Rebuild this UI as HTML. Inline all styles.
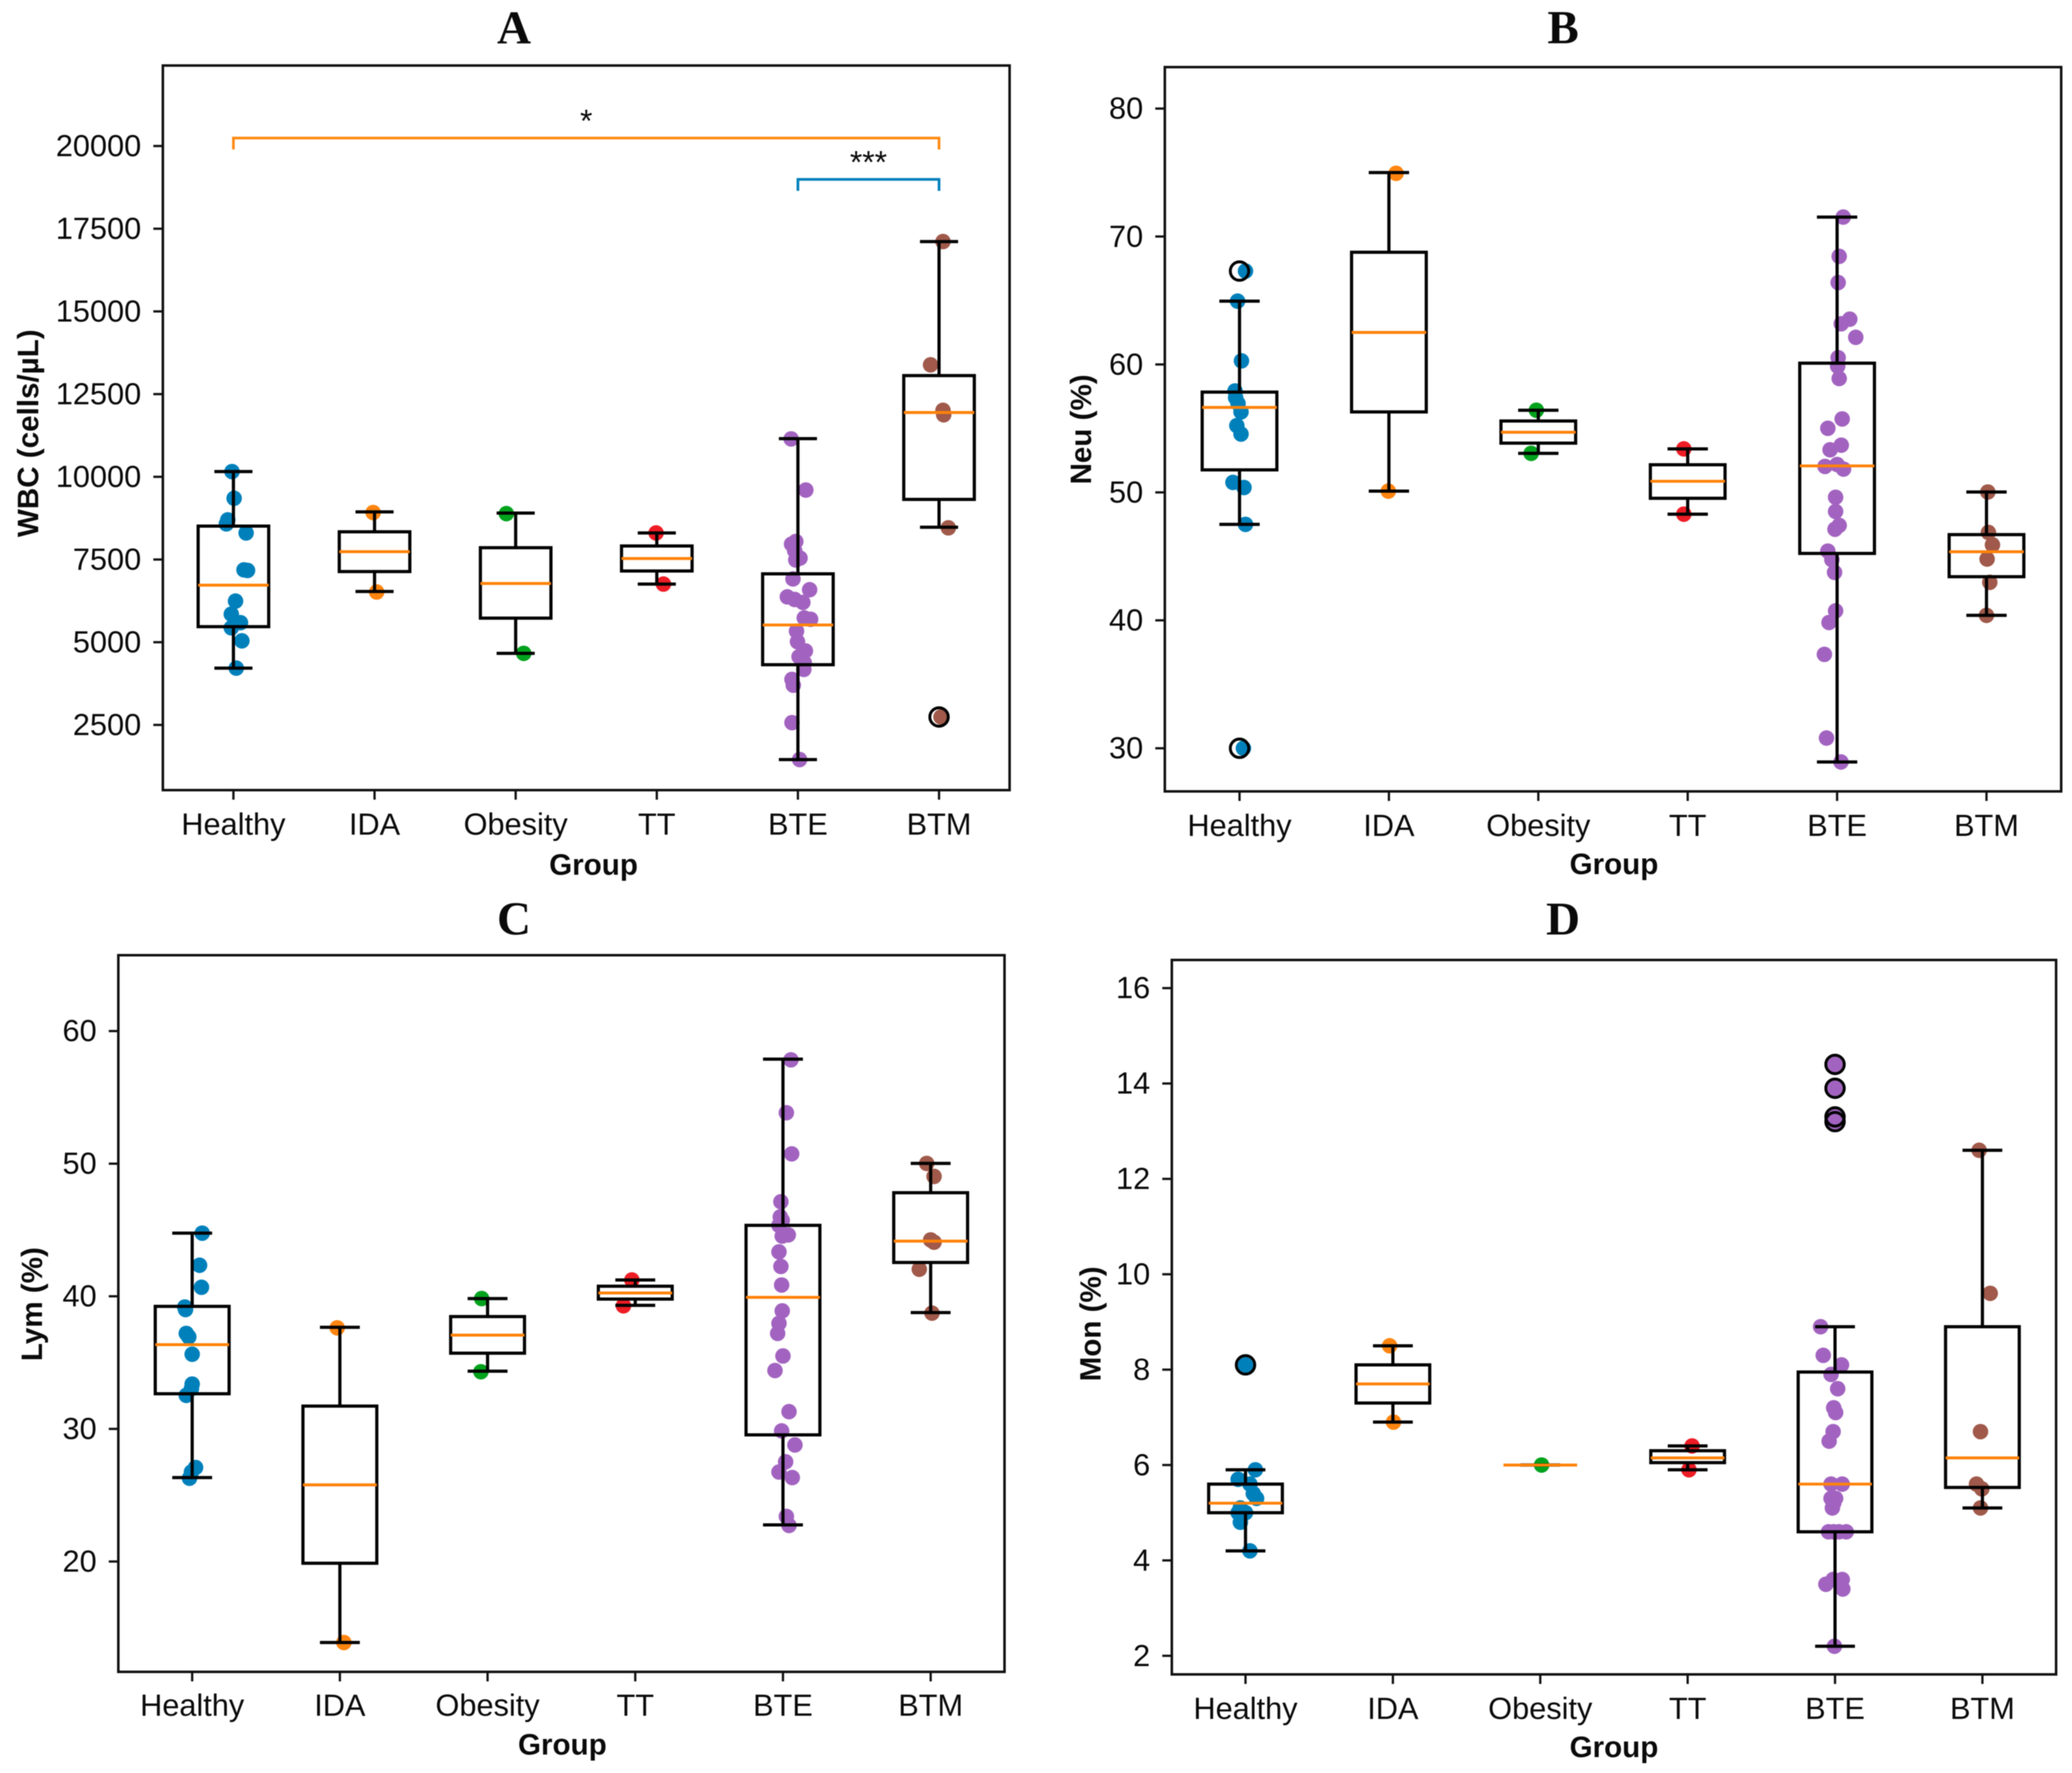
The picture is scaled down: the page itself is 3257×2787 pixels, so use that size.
<!DOCTYPE html>
<html lang="en">
<head>
<meta charset="utf-8">
<title>Blood count box plots by group</title>
<style>
  html, body { margin: 0; padding: 0; background: #ffffff; }
  svg { display: block; filter: blur(0.7px); }
  text { font-family: "Liberation Sans", sans-serif; fill: #0a0a0a; }
  .panel-title { font-family: "Liberation Serif", serif; font-weight: bold; font-size: 74px; text-anchor: middle; }
  .axis-title { font-weight: bold; font-size: 46.5px; text-anchor: middle; }
  .tick-label { font-size: 48.3px; }
  .sig { font-size: 50px; text-anchor: middle; }
  .spine { fill: none; stroke: #111; stroke-width: 4; }
  .tick { stroke: #111; stroke-width: 3.6; }
  .boxline { fill: none; stroke: #000; stroke-width: 5; }
  .median { stroke: #ff8208; stroke-width: 4.6; }
  .flier { fill: none; stroke: #000; stroke-width: 4.6; }
  .g0 { fill: #0080bb; } .g1 { fill: #ff8510; } .g2 { fill: #00a21c; }
  .g3 { fill: #ee1c25; } .g4 { fill: #a263c0; } .g5 { fill: #a0594a; }
  .bracket { fill: none; stroke-width: 4.2; }
</style>
</head>
<body>
<svg id="fig" xmlns="http://www.w3.org/2000/svg" width="3257" height="2787" viewBox="0 0 3257 2787">
  <rect x="0" y="0" width="3257" height="2787" fill="#ffffff"/>

  <g id="panel-a"></g>
  <g id="panel-b"></g>
  <g id="panel-c"></g>
  <g id="panel-d"></g>

  <text class="panel-title" x="808" y="68">A</text>
  <text class="panel-title" x="2457" y="68">B</text>
  <text class="panel-title" x="808" y="1469">C</text>
  <text class="panel-title" x="2457" y="1469">D</text>

  <text class="axis-title" x="933" y="1375">Group</text>
  <text class="axis-title" x="2537" y="1374">Group</text>
  <text class="axis-title" x="884" y="2758">Group</text>
  <text class="axis-title" x="2537" y="2762">Group</text>

  <text class="axis-title" transform="translate(60 681) rotate(-90)">WBC (cells/µL)</text>
  <text class="axis-title" transform="translate(1715 675) rotate(-90)">Neu (%)</text>
  <text class="axis-title" transform="translate(66 2050) rotate(-90)">Lym (%)</text>
  <text class="axis-title" transform="translate(1730 2081) rotate(-90)">Mon (%)</text>
</svg>

<script>
const categories = ['Healthy', 'IDA', 'Obesity', 'TT', 'BTE', 'BTM'];

/* ---------- Panel A: WBC ---------- */
const wbcTicks = [2500, 5000, 7500, 10000, 12500, 15000, 17500, 20000];
const wbcLimits = [529, 22433];
const wbcLow = [4217, 6535, 4663, 6758, 1453, 8475];
const wbcQ1 = [5470, 7136, 5728, 7153, 4320, 9317];
const wbcMedian = [6724, 7737, 6775, 7531, 5522, 11943];
const wbcQ3 = [8510, 8338, 7857, 7909, 7067, 13060];
const wbcHigh = [10158, 8939, 8904, 8303, 11154, 17112];
const wbcFliers = [[], [], [], [], [], [2740]];
const wbcValues = [
  [10158, 9351, 8698, 8578, 8303, 7187, 7170, 6243, 5848, 5591, 5436, 5041, 4217],
  [8920, 6518],
  [8887, 4663],
  [8303, 6758],
  [11146, 9600, 8045, 7966, 7766, 7543, 7487, 6913, 6587, 6371, 6292, 6204, 5734, 5694, 5335, 5016, 4737, 4562, 4379, 4179, 3877, 3701, 2569, 1453],
  [17112, 13386, 12010, 11875, 8458, 2740]
];
const wbcJitter = [
  [-0.01, 0.005, -0.04, -0.05, 0.09, 0.075, 0.10, 0.015, -0.015, 0.05, -0.015, 0.06, 0.02],
  [-0.01, 0.015],
  [-0.066, 0.057],
  [-0.005, 0.047],
  [-0.048, 0.056, -0.015, -0.045, -0.023, 0.015, -0.015, -0.035, 0.083, -0.075, -0.023, 0.035, 0.045, 0.09, -0.01, -0.003, 0.053, 0.008, 0.045, 0.042, -0.042, -0.033, -0.042, 0.012],
  [0.028, -0.06, 0.028, 0.033, 0.066, 0.014]
];
/* significance brackets: from group, to group, level, label */
const wbcBracketFrom = [0, 4];
const wbcBracketTo = [5, 5];
const wbcBracketLevel = [20240, 18990];
const wbcBracketLabels = ['*', '***'];

/* ---------- Panel B: Neu ---------- */
const neuTicks = [30, 40, 50, 60, 70, 80];
const neuLimits = [26.63, 83.24];
const neuLow = [47.5, 50.1, 53.05, 48.3, 28.93, 40.39];
const neuQ1 = [51.76, 56.29, 53.85, 49.54, 45.23, 43.41];
const neuMedian = [56.64, 62.5, 54.7, 50.87, 52.07, 45.36];
const neuQ3 = [57.84, 68.77, 55.58, 52.16, 60.1, 46.7];
const neuHigh = [64.95, 75, 56.42, 53.4, 71.52, 50.03];
const neuFliers = [[67.3, 30], [], [], [], [], []];
const neuValues = [
  [67.3, 64.95, 60.28, 57.93, 57.4, 56.95, 56.29, 55.22, 54.56, 50.78, 50.38, 47.5, 30],
  [74.94, 50.1],
  [56.42, 53.05],
  [53.4, 48.3],
  [71.52, 68.45, 66.4, 63.18, 63.54, 62.12, 60.53, 59.86, 58.9, 55.74, 55.01, 53.69, 53.33, 52.03, 52.18, 51.82, 49.62, 48.51, 47.42, 47.12, 45.41, 44.74, 43.75, 40.74, 39.83, 37.34, 30.8, 28.93],
  [50.03, 46.87, 45.9, 44.79, 42.97, 40.39]
];
const neuJitter = [
  [0.04, -0.013, 0.013, -0.03, -0.026, -0.01, 0.01, -0.018, 0.01, -0.044, 0.03, 0.04, 0.026],
  [0.048, -0.004],
  [-0.013, -0.048],
  [-0.026, -0.026],
  [0.041, 0.014, 0.007, 0.028, 0.085, 0.125, 0.007, 0.004, 0.014, 0.034, -0.062, 0.028, -0.047, -0.081, 0, 0.043, -0.01, -0.01, 0.014, -0.014, -0.062, -0.035, -0.017, -0.01, -0.054, -0.085, -0.071, 0.026],
  [0.009, 0.013, 0.04, 0.004, 0.022, 0]
];

/* ---------- Panel C: Lym ---------- */
const lymTicks = [20, 30, 40, 50, 60];
const lymLimits = [11.68, 65.72];
const lymLow = [26.33, 13.89, 34.35, 39.32, 22.76, 38.77];
const lymQ1 = [32.65, 19.87, 35.71, 39.79, 29.55, 42.55];
const lymMedian = [36.35, 25.78, 37.07, 40.25, 39.92, 44.16];
const lymQ3 = [39.24, 31.72, 38.47, 40.76, 45.35, 47.81];
const lymHigh = [44.76, 37.66, 39.83, 41.23, 57.88, 50.02];
const lymFliers = [[], [], [], [], [], []];
const lymValues = [
  [44.76, 42.34, 40.68, 39.19, 39, 37.2, 36.94, 35.63, 33.38, 33.04, 32.53, 27.09, 26.75, 26.28],
  [37.62, 13.89],
  [39.83, 34.31],
  [41.23, 39.28],
  [57.83, 53.84, 50.74, 47.13, 45.99, 45.73, 45.35, 44.54, 44.63, 43.35, 42.25, 40.85, 38.9, 37.96, 37.2, 35.5, 34.4, 31.3, 29.85, 28.79, 27.52, 26.75, 26.33, 23.4, 22.72],
  [50.02, 49.04, 44.25, 44.08, 42.04, 38.73]
];
const lymJitter = [
  [0.068, 0.05, 0.063, -0.05, -0.045, -0.04, -0.023, 0, 0, -0.005, -0.04, 0.023, -0.005, -0.018],
  [-0.018, 0.027],
  [-0.04, -0.045],
  [-0.023, -0.08],
  [0.054, 0.023, 0.059, -0.014, -0.018, -0.005, -0.027, -0.005, 0.036, -0.027, -0.014, -0.009, -0.005, -0.027, -0.036, 0, -0.054, 0.041, -0.009, 0.081, 0.018, -0.027, 0.063, 0.023, 0.041],
  [-0.027, 0.023, 0, 0.023, -0.077, 0.009]
];

/* ---------- Panel D: Mon ---------- */
const monTicks = [2, 4, 6, 8, 10, 12, 14, 16];
const monLimits = [1.61, 16.59];
const monLow = [4.2, 6.9, 6, 5.9, 2.2, 5.1];
const monQ1 = [5.0, 7.3, 6, 6.05, 4.6, 5.53];
const monMedian = [5.2, 7.7, 6, 6.15, 5.6, 6.15];
const monQ3 = [5.6, 8.1, 6, 6.3, 7.95, 8.9];
const monHigh = [5.9, 8.5, 6, 6.4, 8.9, 12.6];
const monFliers = [[8.1], [], [], [], [14.4, 13.9, 13.3, 13.2], []];
const monValues = [
  [8.1, 5.9, 5.7, 5.6, 5.4, 5.3, 5.1, 5.0, 5.0, 4.8, 4.2],
  [8.5, 6.9],
  [6],
  [6.4, 5.9],
  [14.4, 13.9, 13.3, 13.2, 8.9, 8.3, 8.1, 7.9, 7.6, 7.2, 7.1, 6.7, 6.5, 5.6, 5.6, 5.3, 5.3, 5.2, 5.1, 4.6, 4.6, 4.6, 4.6, 3.6, 3.6, 3.5, 3.4, 2.2],
  [12.6, 9.6, 6.7, 5.6, 5.5, 5.1]
];
const monJitter = [
  [0, 0.067, -0.05, 0.03, 0.053, 0.075, -0.035, 0, -0.05, -0.035, 0.03],
  [-0.022, 0.004],
  [0.009],
  [0.03, 0.009],
  [0, 0, 0, 0, -0.098, -0.08, 0.044, -0.027, 0.018, -0.009, 0.004, -0.013, -0.04, -0.027, 0.049, -0.027, 0.004, -0.009, -0.018, -0.044, -0.009, 0.027, 0.076, 0.049, -0.013, -0.062, 0.053, -0.004],
  [-0.022, 0.053, -0.013, -0.04, -0.004, -0.013]
];

const SVG_NS = 'http://www.w3.org/2000/svg';

function make(tag, cls, parent) {
  const el = document.createElementNS(SVG_NS, tag);
  if (cls) el.setAttribute('class', cls);
  parent.appendChild(el);
  return el;
}

function drawPanel(host, frame, s) {
  const xScale = i => frame.left + (i + 0.5) * (frame.right - frame.left) / categories.length;
  const step = (frame.right - frame.left) / categories.length;
  const yScale = v => frame.bottom - (v - s.limits[0]) / (s.limits[1] - s.limits[0]) * (frame.bottom - frame.top);

  // jittered strip points, underneath the boxes
  s.values.forEach((vals, g) => {
    vals.forEach((v, k) => {
      const dot = make('circle', 'g' + g, host);
      
      
      dot.setAttribute('cx', xScale(g + s.jitter[g][k]));
      dot.setAttribute('cy', yScale(v));
      dot.setAttribute('r', 12.2);
    });
  });

  // box and whisker glyphs
  categories.forEach((name, g) => {
    const cx = xScale(g);
    const half = step * 0.25;
    const cap = step * 0.135;

    const lowerWhisker = make('line', 'boxline', host);
    
    
    lowerWhisker.setAttribute('x1', cx);
    lowerWhisker.setAttribute('x2', cx);
    lowerWhisker.setAttribute('y1', yScale(s.q1[g]));
    lowerWhisker.setAttribute('y2', yScale(s.low[g]));

    const upperWhisker = make('line', 'boxline', host);
    
    
    upperWhisker.setAttribute('x1', cx);
    upperWhisker.setAttribute('x2', cx);
    upperWhisker.setAttribute('y1', yScale(s.q3[g]));
    upperWhisker.setAttribute('y2', yScale(s.high[g]));

    const lowerCap = make('line', 'boxline', host);
    
    
    lowerCap.setAttribute('x1', cx - cap);
    lowerCap.setAttribute('x2', cx + cap);
    lowerCap.setAttribute('y1', yScale(s.low[g]));
    lowerCap.setAttribute('y2', yScale(s.low[g]));

    const upperCap = make('line', 'boxline', host);
    
    
    upperCap.setAttribute('x1', cx - cap);
    upperCap.setAttribute('x2', cx + cap);
    upperCap.setAttribute('y1', yScale(s.high[g]));
    upperCap.setAttribute('y2', yScale(s.high[g]));

    const box = make('rect', 'boxline', host);
    
    
    box.setAttribute('x', cx - half);
    box.setAttribute('width', half * 2);
    box.setAttribute('y', yScale(s.q3[g]));
    box.setAttribute('height', Math.max(0, yScale(s.q1[g]) - yScale(s.q3[g])));

    const med = make('line', 'median', host);
    
    
    med.setAttribute('x1', cx - half);
    med.setAttribute('x2', cx + half);
    med.setAttribute('y1', yScale(s.median[g]));
    med.setAttribute('y2', yScale(s.median[g]));

    s.fliers[g].forEach(v => {
      const ring = make('circle', 'flier', host);
      
      
      ring.setAttribute('cx', cx);
      ring.setAttribute('cy', yScale(v));
      ring.setAttribute('r', 14.5);
    });

    const tick = make('line', 'tick', host);
    
    
    tick.setAttribute('x1', cx);
    tick.setAttribute('x2', cx);
    tick.setAttribute('y1', frame.bottom);
    tick.setAttribute('y2', frame.bottom + 15);

    const label = make('text', 'tick-label', host);
    
    
    label.setAttribute('x', cx);
    label.setAttribute('y', frame.xLabelY);
    label.setAttribute('text-anchor', 'middle');
    label.textContent = name;
  });

  // y axis
  s.ticks.forEach(t => {
    const y = yScale(t);
    const tick = make('line', 'tick', host);
    
    
    tick.setAttribute('x1', frame.left - 15);
    tick.setAttribute('x2', frame.left);
    tick.setAttribute('y1', y);
    tick.setAttribute('y2', y);

    const label = make('text', 'tick-label', host);
    
    
    label.setAttribute('x', frame.left - 34);
    label.setAttribute('y', y + 16);
    label.setAttribute('text-anchor', 'end');
    label.textContent = t;
  });

  // significance brackets
  (s.bracketLabels || []).forEach((txt, b) => {
    const x1 = xScale(s.bracketFrom[b]);
    const x2 = xScale(s.bracketTo[b]);
    const level = yScale(s.bracketLevel[b]);
    const path = make('path', 'bracket', host);
    
    
    path.setAttribute('stroke', b === 0 ? '#ff8a14' : '#0080bb');
    path.setAttribute('d', 'M' + x1 + ' ' + (level + 18) + 'V' + level + 'H' + x2 + 'V' + (level + 18));

    const star = make('text', 'sig', host);
    
    
    star.setAttribute('x', (x1 + x2) / 2);
    star.setAttribute('y', level - 10);
    star.textContent = txt;
  });

  const spine = make('rect', 'spine', host);
  
  
  spine.setAttribute('x', frame.left);
  spine.setAttribute('y', frame.top);
  spine.setAttribute('width', frame.right - frame.left);
  spine.setAttribute('height', frame.bottom - frame.top);
}

drawPanel(document.getElementById('panel-a'),
  { left: 256, right: 1587, top: 103, bottom: 1242, xLabelY: 1312 },
  { ticks: wbcTicks, limits: wbcLimits, low: wbcLow, q1: wbcQ1, median: wbcMedian, q3: wbcQ3, high: wbcHigh,
    fliers: wbcFliers, values: wbcValues, jitter: wbcJitter,
    bracketFrom: wbcBracketFrom, bracketTo: wbcBracketTo, bracketLevel: wbcBracketLevel, bracketLabels: wbcBracketLabels });

drawPanel(document.getElementById('panel-b'),
  { left: 1831, right: 3240, top: 105.5, bottom: 1244, xLabelY: 1314 },
  { ticks: neuTicks, limits: neuLimits, low: neuLow, q1: neuQ1, median: neuMedian, q3: neuQ3, high: neuHigh,
    fliers: neuFliers, values: neuValues, jitter: neuJitter });

drawPanel(document.getElementById('panel-c'),
  { left: 186, right: 1579, top: 1501.5, bottom: 2628, xLabelY: 2697 },
  { ticks: lymTicks, limits: lymLimits, low: lymLow, q1: lymQ1, median: lymMedian, q3: lymQ3, high: lymHigh,
    fliers: lymFliers, values: lymValues, jitter: lymJitter });

drawPanel(document.getElementById('panel-d'),
  { left: 1842, right: 3232, top: 1509, bottom: 2632, xLabelY: 2702 },
  { ticks: monTicks, limits: monLimits, low: monLow, q1: monQ1, median: monMedian, q3: monQ3, high: monHigh,
    fliers: monFliers, values: monValues, jitter: monJitter });
</script>
</body>
</html>
